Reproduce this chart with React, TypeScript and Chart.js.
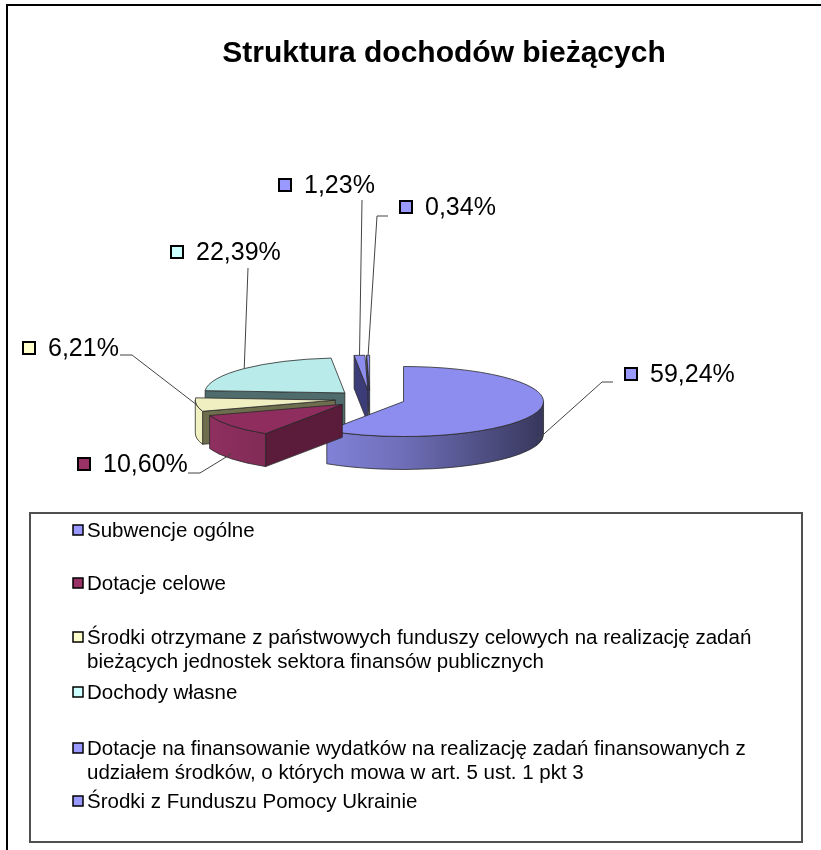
import React, { useEffect, useRef } from 'react';
import { Chart, registerables } from 'chart.js';

Chart.register(...registerables);

const TITLE = 'Struktura dochodów bieżących';

const categories: string[][] = [
  ['Subwencje ogólne'],
  ['Dotacje celowe'],
  ['Środki otrzymane z państwowych funduszy celowych na realizację zadań', 'bieżących jednostek sektora finansów publicznych'],
  ['Dochody własne'],
  ['Dotacje na finansowanie wydatków na realizację zadań finansowanych z', 'udziałem środków, o których mowa w art. 5 ust. 1 pkt 3'],
  ['Środki z Funduszu Pomocy Ukrainie'],
];

const shares = [59.24, 10.6, 6.21, 22.39, 1.23, 0.34];

const legendColors = ['#9999FF', '#993366', '#FFFFCC', '#CCFFFF', '#9999FF', '#9999FF'];
const topColors = ['#8D8DEF', '#8F2D5F', '#EFEFC2', '#B9EBEB', '#8D8DEF', '#8D8DEF'];
const sideColors = ['#3C3C78', '#5B1B3B', '#6E6E4E', '#4F6B6B', '#3C3C78', '#3C3C78'];

const FONT = '"Liberation Sans", Arial, sans-serif';

const fmt = (v: number) => v.toFixed(2).replace('.', ',') + '%';

// label placement (layout only)
const labelLayout = [
  { x: 625, y: 374, path: [[602, 382], [613, 382]] },
  { x: 78, y: 464, path: [[200, 473], [188, 473]] },
  { x: 23, y: 348, path: [[132, 355], [120, 355]] },
  { x: 171, y: 252, path: [[248, 268]] },
  { x: 279, y: 185, path: [[362, 200]] },
  { x: 400, y: 207, path: [[377, 216], [388, 216]] },
];
const legendRowY = [530, 583, 637, 692, 748, 801];

function shade(hex: string, f: number) {
  const n = parseInt(hex.slice(1), 16);
  const r = Math.round(((n >> 16) & 255) * f);
  const g = Math.round(((n >> 8) & 255) * f);
  const b = Math.round((n & 255) * f);
  return `rgb(${Math.min(255, r)},${Math.min(255, g)},${Math.min(255, b)})`;
}

const GEO = { cx: 370, cy: 399, r: 140, k: 0.25, depth: 33, explode: 35 };

function computeItems(chart: any) {
  const meta = chart.getDatasetMeta(0);
  return meta.data.map((el: any, i: number) => {
    const p = el.getProps(['x', 'y', 'startAngle', 'endAngle', 'outerRadius'], true);
    const mid = (p.startAngle + p.endAngle) / 2;
    const ax = GEO.cx + Math.cos(mid) * GEO.explode;
    const ay = GEO.cy + Math.sin(mid) * GEO.explode * GEO.k;
    return { el, i, p, mid, ax, ay };
  });
}

const pie3d = {
  id: 'pie3d',
  beforeDraw(chart: any) {
    const ctx = chart.ctx;
    ctx.save();
    ctx.fillStyle = '#fff';
    ctx.fillRect(0, 0, chart.width, chart.height);
    ctx.restore();
  },
  beforeDatasetsDraw(chart: any) {
    const ctx = chart.ctx;
    const { r: R, k: K, depth: D } = GEO;
    const items = computeItems(chart);
    items.sort((a: any, b: any) => Math.sin(a.mid) - Math.sin(b.mid));
    ctx.save();
    ctx.lineWidth = 0.8;
    ctx.strokeStyle = '#2a2a2a';
    ctx.lineJoin = 'round';
    for (const it of items) {
      const { p, ax, ay, i } = it;
      const a0 = p.startAngle, a1 = p.endAngle;
      const wall = (a: number) => {
        const ex = ax + R * Math.cos(a), ey = ay + R * K * Math.sin(a);
        ctx.beginPath();
        ctx.moveTo(ax, ay);
        ctx.lineTo(ex, ey);
        ctx.lineTo(ex, ey + D);
        ctx.lineTo(ax, ay + D);
        ctx.closePath();
        ctx.fillStyle = sideColors[i];
        ctx.fill();
        ctx.stroke();
      };
      if (Math.cos(a0) < 0) wall(a0);
      if (Math.cos(a1) > 0) wall(a1);
      const t0 = Math.max(a0, 0), t1 = Math.min(a1, Math.PI);
      if (t1 > t0) {
        const g = ctx.createLinearGradient(ax - R, 0, ax + R, 0);
        g.addColorStop(0, shade(legendColors[i], 0.95));
        g.addColorStop(0.5, shade(legendColors[i], 0.72));
        g.addColorStop(1, shade(legendColors[i], 0.36));
        ctx.beginPath();
        ctx.ellipse(ax, ay, R, R * K, 0, t0, t1, false);
        ctx.lineTo(ax + R * Math.cos(t1), ay + D + R * K * Math.sin(t1));
        ctx.ellipse(ax, ay + D, R, R * K, 0, t1, t0, true);
        ctx.closePath();
        ctx.fillStyle = g;
        ctx.fill();
        ctx.stroke();
      }
      ctx.save();
      const s = R / p.outerRadius;
      ctx.translate(ax, ay);
      ctx.scale(s, s * K);
      ctx.translate(-p.x, -p.y);
      it.el.draw(ctx);
      ctx.restore();
      ctx.beginPath();
      ctx.moveTo(ax, ay);
      ctx.ellipse(ax, ay, R, R * K, 0, a0, a1, false);
      ctx.closePath();
      ctx.stroke();
    }
    ctx.restore();
    return false;
  },
  afterDraw(chart: any) {
    const ctx = chart.ctx;
    const { r: R, k: K, depth: D } = GEO;
    const items = computeItems(chart);
    const values = chart.data.datasets[0].data as number[];
    ctx.save();
    for (const it of items) {
      const { i, ax, ay, mid } = it;
      const L = labelLayout[i];
      const axp = ax + R * Math.cos(mid);
      let ayp = ay + R * K * Math.sin(mid);
      if (Math.sin(mid) > 0.2) ayp += D * 0.85;
      ctx.beginPath();
      ctx.moveTo(axp, ayp);
      for (const pt of L.path) ctx.lineTo(pt[0], pt[1]);
      ctx.strokeStyle = '#444';
      ctx.lineWidth = 1;
      ctx.stroke();
      ctx.fillStyle = legendColors[i];
      ctx.fillRect(L.x, L.y - 6, 12, 12);
      ctx.lineWidth = 2;
      ctx.strokeStyle = '#000';
      ctx.strokeRect(L.x, L.y - 6, 12, 12);
      ctx.fillStyle = '#000';
      ctx.font = `25px ${FONT}`;
      ctx.textBaseline = 'middle';
      ctx.textAlign = 'left';
      ctx.fillText(fmt(values[i]), L.x + 25, L.y + 1);
    }
    // legend
    ctx.lineWidth = 2;
    ctx.strokeStyle = '#505050';
    ctx.strokeRect(30, 513, 772, 329);
    const labels = chart.data.labels as string[][];
    ctx.font = `20.5px ${FONT}`;
    ctx.textBaseline = 'middle';
    labels.forEach((lines, i) => {
      const y0 = legendRowY[i];
      ctx.fillStyle = legendColors[i];
      ctx.fillRect(73, y0 - 5, 10, 10);
      ctx.lineWidth = 1.5;
      ctx.strokeStyle = '#000';
      ctx.strokeRect(73, y0 - 5, 10, 10);
      ctx.fillStyle = '#000';
      lines.forEach((ln, j) => ctx.fillText(ln, 87, y0 + 1 + j * 24));
    });
    // outer frame
    ctx.beginPath();
    ctx.moveTo(7, 850);
    ctx.lineTo(7, 5);
    ctx.lineTo(821, 5);
    ctx.lineWidth = 2;
    ctx.strokeStyle = '#000';
    ctx.stroke();
    ctx.restore();
  },
};

export default function App() {
  const ref = useRef<HTMLCanvasElement>(null);
  useEffect(() => {
    const chart = new Chart(ref.current!, {
      type: 'pie',
      data: {
        labels: categories,
        datasets: [
          {
            data: shares,
            backgroundColor: topColors,
            borderWidth: 0,
            offset: 0,
          },
        ],
      },
      options: {
        responsive: false,
        animation: false,
        events: [],
        layout: { padding: { left: 67, right: 0, top: 0, bottom: 320 } },
        plugins: {
          legend: { display: false },
          tooltip: { enabled: false },
          title: {
            display: true,
            text: TITLE,
            color: '#000',
            font: { family: FONT, size: 30, weight: 'bold' },
            padding: { top: 36, bottom: 10 },
          },
        },
      },
      plugins: [pie3d],
    });
    return () => chart.destroy();
  }, []);
  return (
    <div style={{ position: 'absolute', left: 0, top: 0, width: 821, height: 850 }}>
      <canvas ref={ref} width={821} height={850} />
    </div>
  );
}
